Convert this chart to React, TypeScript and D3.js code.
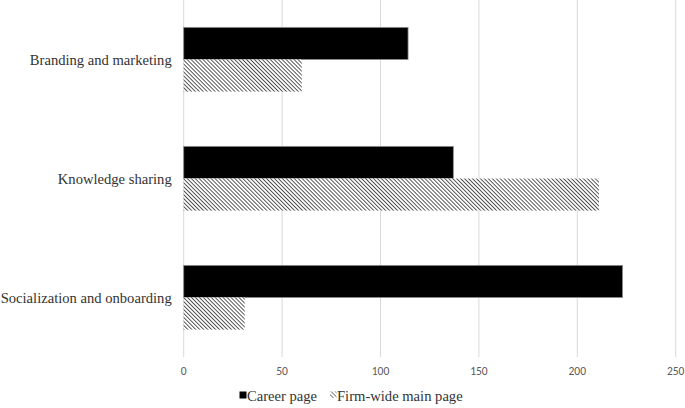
import { useEffect, useRef } from "react";
import * as d3 from "d3";

const categories = ["Branding and marketing", "Knowledge sharing", "Socialization and onboarding"];
const careerPage = [114, 137, 223];
const firmWide = [60, 211, 31];
const seriesNames = ["Career page", "Firm-wide main page"];
const xTicks = [0, 50, 100, 150, 200, 250];

const serif = "'Liberation Serif', 'Times New Roman', serif";

export default function App() {
  const gRef = useRef<SVGGElement | null>(null);

  const W = 685;
  const H = 408;
  const margin = { top: 0, left: 183.7, right: 9.3, bottom: 51 };
  const width = W - margin.left - margin.right;
  const height = H - margin.top - margin.bottom;

  const x = d3.scaleLinear().domain([0, 250]).range([0, width]);
  const y = d3.scaleBand<string>().domain(categories).range([0, height]).paddingInner(0.46).paddingOuter(0.23);
  const sub = d3.scaleBand<string>().domain(seriesNames).range([0, y.bandwidth()]);

  useEffect(() => {
    const g = d3.select(gRef.current);
    g.selectAll("*").remove();

    // gridlines
    g.append("g")
      .selectAll("line")
      .data(xTicks)
      .join("line")
      .attr("x1", (d) => x(d))
      .attr("x2", (d) => x(d))
      .attr("y1", 0)
      .attr("y2", height)
      .attr("stroke", "#d9d9d9")
      .attr("stroke-width", 1);

    // tick labels
    g.append("g")
      .selectAll("text")
      .data(xTicks)
      .join("text")
      .attr("x", (d) => x(d))
      .attr("y", height + 18)
      .attr("text-anchor", "middle")
      .style("font-family", "Carlito, 'Liberation Sans', sans-serif")
      .attr("font-size", 11.5)
      .attr("fill", "#595959")
      .text((d) => d);

    // category labels
    g.append("g")
      .selectAll("text")
      .data(categories)
      .join("text")
      .attr("x", -12)
      .attr("y", (d) => (y(d) as number) + y.bandwidth() / 2)
      .attr("dy", "0.35em")
      .attr("text-anchor", "end")
      .style("font-family", serif)
      .attr("font-size", 14.6)
      .attr("fill", "#333")
      .text((d) => d);

    // career bars
    g.append("g")
      .selectAll("rect")
      .data(categories)
      .join("rect")
      .attr("x", 0)
      .attr("y", (d) => (y(d) as number) + (sub(seriesNames[0]) as number))
      .attr("width", (d, i) => x(careerPage[i]))
      .attr("height", sub.bandwidth())
      .attr("fill", "#000")
      .attr("stroke", "#8c8c8c")
      .attr("stroke-width", 0.8);

    // firm-wide bars
    g.append("g")
      .selectAll("rect")
      .data(categories)
      .join("rect")
      .attr("x", 0)
      .attr("y", (d) => (y(d) as number) + (sub(seriesNames[1]) as number))
      .attr("width", (d, i) => x(firmWide[i]))
      .attr("height", sub.bandwidth())
      .attr("fill", "url(#hatch)");

    // legend
    const leg = g.append("g").attr("transform", `translate(${239.5 - margin.left}, ${H - 7})`);
    leg.append("rect").attr("x", 0).attr("y", -9.5).attr("width", 7).attr("height", 7).attr("fill", "#000");
    leg.append("text")
      .attr("x", 7.5)
      .attr("y", 0)
      .style("font-family", serif)
      .attr("font-size", 14.6)
      .attr("fill", "#333")
      .text(seriesNames[0]);
    leg.append("rect").attr("x", 90.5).attr("y", -9.5).attr("width", 6.5).attr("height", 6.5).attr("fill", "url(#hatchSmall)");
    leg.append("text")
      .attr("x", 97.5)
      .attr("y", 0)
      .style("font-family", serif)
      .attr("font-size", 14.6)
      .attr("fill", "#333")
      .text(seriesNames[1]);
  }, []);

  return (
    <svg width={W} height={H} style={{ position: "absolute", left: 0, top: 0 }}>
      <defs>
        <pattern id="hatch" patternUnits="userSpaceOnUse" width="2.8" height="2.8" patternTransform="rotate(45)">
          <rect width="2.8" height="2.8" fill="#fff" />
          <line x1="0" y1="0" x2="2.8" y2="0" stroke="#000" strokeWidth="1.3" />
        </pattern>
        <pattern id="hatchSmall" patternUnits="userSpaceOnUse" width="3" height="3" patternTransform="rotate(45)">
          <rect width="3" height="3" fill="#fff" />
          <line x1="0" y1="0" x2="3" y2="0" stroke="#000" strokeWidth="1" />
        </pattern>
      </defs>
      <rect width={W} height={H} fill="#fff" />
      <g ref={gRef} transform={`translate(${margin.left}, ${margin.top})`} />
    </svg>
  );
}
